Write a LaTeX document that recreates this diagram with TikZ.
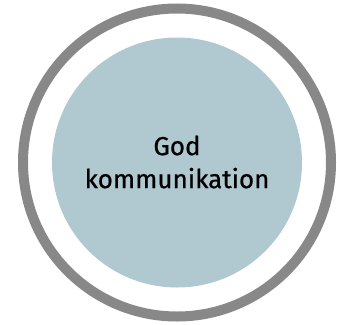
\documentclass[tikz,border=0pt]{standalone}
\usepackage{fontspec}
\setmainfont{Fira Sans}
\newfontfamily\lblfont{Fira Sans}[FakeBold=0.7]
\definecolor{ringgray}{RGB}{136,136,136}
\definecolor{innerblue}{RGB}{176,200,207}
\begin{document}
\begin{tikzpicture}[x=1pt,y=-1pt,
  ring/.style={draw=ringgray,line width=10pt},
  core/.style={fill=innerblue},
  lbl/.style={align=center,font=\lblfont\fontsize{26}{33}\selectfont,text=black}]
\useasboundingbox (0,0) rectangle (337,324);
\coordinate (c) at (177,162.5);
\draw[ring] (c) circle[radius=154];
\fill[core] (c) circle[radius=125];
\node[lbl] (t) at (177,162) {God\\kommunikation};
\end{tikzpicture}
\end{document}
